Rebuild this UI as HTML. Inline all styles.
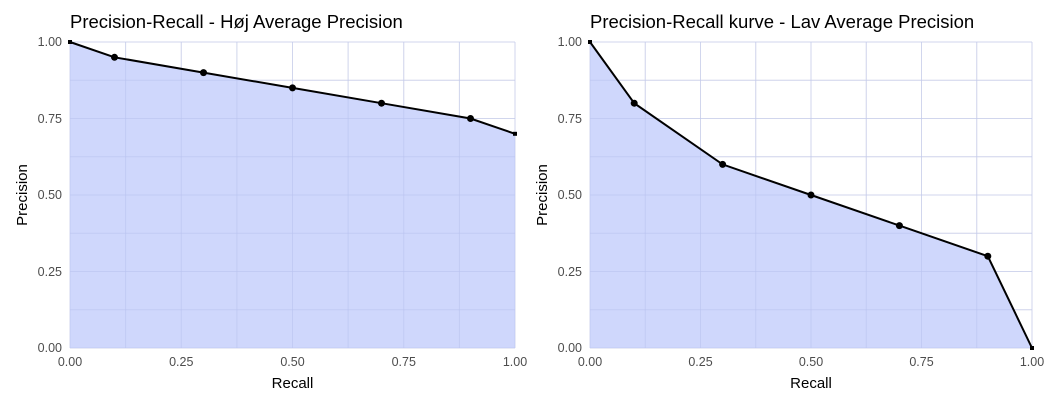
<!DOCTYPE html>
<html><head><style>
body{margin:0;background:#fff;}
svg text{font-family:"Liberation Sans",Arial,sans-serif;}
</style></head><body>
<svg width="1052" height="405" xmlns="http://www.w3.org/2000/svg">
<defs>
<g id="gL" stroke-width="1">
<line x1="70" x2="515" y1="42" y2="42"/><line x1="70" x2="515" y1="80.25" y2="80.25"/><line x1="70" x2="515" y1="118.5" y2="118.5"/><line x1="70" x2="515" y1="156.75" y2="156.75"/><line x1="70" x2="515" y1="195" y2="195"/><line x1="70" x2="515" y1="233.25" y2="233.25"/><line x1="70" x2="515" y1="271.5" y2="271.5"/><line x1="70" x2="515" y1="309.75" y2="309.75"/><line x1="70" x2="515" y1="348" y2="348"/>
<line y1="42" y2="348" x1="70" x2="70"/><line y1="42" y2="348" x1="125.6" x2="125.6"/><line y1="42" y2="348" x1="181.25" x2="181.25"/><line y1="42" y2="348" x1="236.9" x2="236.9"/><line y1="42" y2="348" x1="292.5" x2="292.5"/><line y1="42" y2="348" x1="348.1" x2="348.1"/><line y1="42" y2="348" x1="403.75" x2="403.75"/><line y1="42" y2="348" x1="459.4" x2="459.4"/><line y1="42" y2="348" x1="515" x2="515"/>
</g>
<g id="gR" stroke-width="1">
<line x1="590" x2="1032" y1="42" y2="42"/><line x1="590" x2="1032" y1="80.25" y2="80.25"/><line x1="590" x2="1032" y1="118.5" y2="118.5"/><line x1="590" x2="1032" y1="156.75" y2="156.75"/><line x1="590" x2="1032" y1="195" y2="195"/><line x1="590" x2="1032" y1="233.25" y2="233.25"/><line x1="590" x2="1032" y1="271.5" y2="271.5"/><line x1="590" x2="1032" y1="309.75" y2="309.75"/><line x1="590" x2="1032" y1="348" y2="348"/>
<line y1="42" y2="348" x1="590" x2="590"/><line y1="42" y2="348" x1="645.25" x2="645.25"/><line y1="42" y2="348" x1="700.5" x2="700.5"/><line y1="42" y2="348" x1="755.75" x2="755.75"/><line y1="42" y2="348" x1="811" x2="811"/><line y1="42" y2="348" x1="866.25" x2="866.25"/><line y1="42" y2="348" x1="921.5" x2="921.5"/><line y1="42" y2="348" x1="976.75" x2="976.75"/><line y1="42" y2="348" x1="1032" x2="1032"/>
</g>
</defs>
<!-- LEFT -->
<use href="#gL" stroke="#ebebeb"/>
<polygon points="70,42 114.5,57.3 203.5,72.6 292.5,87.9 381.5,103.2 470.5,118.5 515,133.8 515,348 70,348" fill="#c7d0fb" fill-opacity="0.85"/>
<use href="#gL" stroke="#b8c2f0" stroke-opacity="0.5"/>
<polyline points="70,42 114.5,57.3 203.5,72.6 292.5,87.9 381.5,103.2 470.5,118.5 515,133.8" fill="none" stroke="#000" stroke-width="2"/>
<g fill="#000"><circle cx="114.5" cy="57.3" r="3.5"/><circle cx="203.5" cy="72.6" r="3.5"/><circle cx="292.5" cy="87.9" r="3.5"/><circle cx="381.5" cy="103.2" r="3.5"/><circle cx="470.5" cy="118.5" r="3.5"/><rect x="68" y="40" width="4" height="4"/><rect x="513" y="131.8" width="4" height="4"/></g>
<text x="70" y="28" font-size="18.5" fill="#000">Precision-Recall - Høj Average Precision</text>
<g font-size="12.5" fill="#4d4d4d" text-anchor="end">
<text x="62" y="46">1.00</text><text x="62" y="123">0.75</text><text x="62" y="199">0.50</text><text x="62" y="276">0.25</text><text x="62" y="352">0.00</text></g>
<g font-size="12.5" fill="#4d4d4d" text-anchor="middle">
<text x="70" y="366">0.00</text><text x="181.25" y="366">0.25</text><text x="292.5" y="366">0.50</text><text x="403.75" y="366">0.75</text><text x="515" y="366">1.00</text></g>
<text x="292.5" y="388" font-size="15" text-anchor="middle" fill="#000">Recall</text>
<text transform="translate(27,195) rotate(-90)" font-size="15" text-anchor="middle" fill="#000">Precision</text>
<!-- RIGHT -->
<use href="#gR" stroke="#ebebeb"/>
<polygon points="590,42 634.2,103.2 722.6,164.4 811,195 899.4,225.6 987.8,256.2 1032,348 590,348" fill="#c7d0fb" fill-opacity="0.85"/>
<use href="#gR" stroke="#b8c2f0" stroke-opacity="0.5"/>
<polyline points="590,42 634.2,103.2 722.6,164.4 811,195 899.4,225.6 987.8,256.2 1032,348" fill="none" stroke="#000" stroke-width="2"/>
<g fill="#000"><circle cx="634.2" cy="103.2" r="3.5"/><circle cx="722.6" cy="164.4" r="3.5"/><circle cx="811" cy="195" r="3.5"/><circle cx="899.4" cy="225.6" r="3.5"/><circle cx="987.8" cy="256.2" r="3.5"/><rect x="588" y="40" width="4" height="4"/><rect x="1030" y="346" width="4" height="4"/></g>
<text x="590" y="28" font-size="18.5" fill="#000">Precision-Recall kurve - Lav Average Precision</text>
<g font-size="12.5" fill="#4d4d4d" text-anchor="end">
<text x="582" y="46">1.00</text><text x="582" y="123">0.75</text><text x="582" y="199">0.50</text><text x="582" y="276">0.25</text><text x="582" y="352">0.00</text></g>
<g font-size="12.5" fill="#4d4d4d" text-anchor="middle">
<text x="590" y="366">0.00</text><text x="700.5" y="366">0.25</text><text x="811" y="366">0.50</text><text x="921.5" y="366">0.75</text><text x="1032" y="366">1.00</text></g>
<text x="811" y="388" font-size="15" text-anchor="middle" fill="#000">Recall</text>
<text transform="translate(547,195) rotate(-90)" font-size="15" text-anchor="middle" fill="#000">Precision</text>
</svg>
</body></html>
